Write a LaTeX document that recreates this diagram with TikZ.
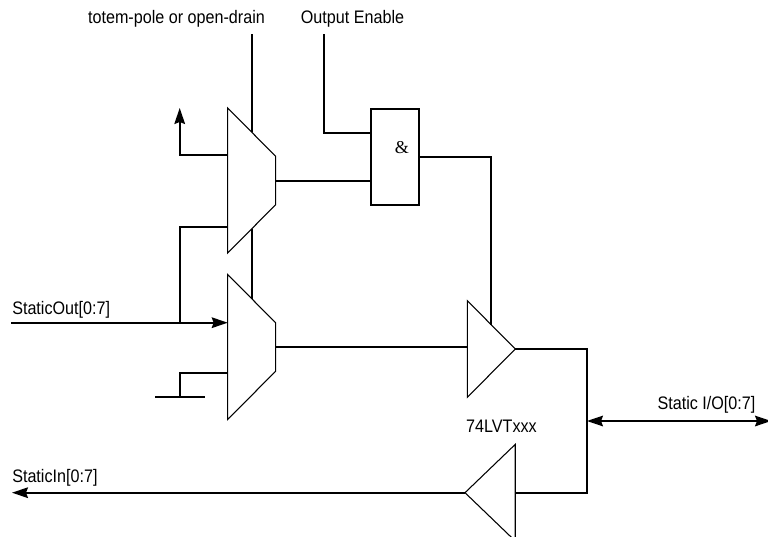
\documentclass[tikz,border=0pt]{standalone}
\usepackage{fontspec}
\setmainfont[FakeStretch=0.89]{Liberation Sans}
\newfontfamily\ampfont{Liberation Serif}
\usetikzlibrary{arrows.meta,shapes.geometric}
\definecolor{WireBlack}{HTML}{000000}
\begin{document}
\begin{tikzpicture}[x=0.75pt,y=-0.75pt,
  wire/.style={WireBlack,line width=1.25pt},
  arr/.style={wire,-{Stealth[length=12pt,width=8pt,inset=1.5pt]}},
  bus/.style={wire,{Stealth[length=12pt,width=8pt,inset=1.5pt]}-{Stealth[length=12pt,width=8pt,inset=1.5pt]}},
  mux/.style={draw,line width=0.8pt,fill=white,trapezium,trapezium left angle=45,
    trapezium right angle=45,trapezium stretches=true,shape border rotate=270,
    minimum width=108.75pt,minimum height=36pt,inner sep=1pt,outer sep=0pt},
  buf/.style={draw,line width=0.8pt,fill=white,isosceles triangle,isosceles triangle apex angle=90,
    isosceles triangle stretches=true,minimum height=36pt,minimum width=72.5pt,inner sep=1pt,outer sep=0pt},
  andbox/.style={draw,line width=1.25pt,minimum width=36pt,minimum height=72pt,inner sep=0pt,outer sep=0pt},
  lab/.style={font=\fontsize{13.6}{15}\selectfont,inner sep=0pt}]
  \useasboundingbox (0,0) rectangle (768,536);
  % wires behind the shapes
  \coordinate (modetop) at (251.7,34);
  \coordinate (oetop) at (323.7,34);
  \coordinate (upfree) at (179.7,108);
  \coordinate (upcorner) at (179.7,155);
  \coordinate (loopcorner) at (179.7,226.7);
  \coordinate (loopjoin) at (179.7,322.7);
  \coordinate (soutfree) at (11,322.7);
  \coordinate (gndtop) at (179.7,373);
  \coordinate (gndjoin) at (179.7,396.7);
  \coordinate (gndleft) at (155,396.7);
  \coordinate (gndright) at (205,396.7);
  \coordinate (sinfree) at (12,492.7);
  \coordinate (iojoin) at (587,421);
  \coordinate (iofree) at (771,421);
  \coordinate (rtop) at (587,349);
  \coordinate (rbot) at (587,492.7);
  \coordinate (oeturn) at (491,156.7);

  \node[mux] (MuxA) at (251.7,180.5) {};
  \node[mux] (MuxB) at (251.7,347) {};
  \node[andbox] (AndG) at (394.8,156.7) {};
  \node[buf,anchor=apex] (BufO) at (515.3,349) {};
  \node[buf,anchor=apex,shape border rotate=180,minimum height=37.7pt] (BufI) at (465,492.7) {};

  \coordinate (muxaup) at (227.7,155);
  \coordinate (muxalo) at (227.7,226.7);
  \coordinate (muxaout) at (275.7,180.7);
  \coordinate (muxasel) at (251.7,132);
  \coordinate (muxasellow) at (251.7,229);
  \coordinate (muxbsel) at (251.7,299);
  \coordinate (muxbin) at (227.7,322.7);
  \coordinate (muxbgnd) at (227.7,373);
  \coordinate (muxbout) at (275.7,346.7);
  \coordinate (bufoin) at (467.3,346.7);
  \coordinate (bufoen) at (491,325);
  \coordinate (andin) at (370.8,132.7);
  \coordinate (oecorner) at (323.7,132.7);
  \coordinate (andinb) at (370.8,180.7);
  \coordinate (andout) at (418.8,156.7);
  \coordinate (bufiin) at (515.3,492.7);

  \draw[wire] (modetop) -- (muxasel);
  \draw[wire] (muxasellow) -- (muxbsel);
  \draw[arr] (muxaup) -- (upcorner) -- (upfree);
  \draw[wire] (muxalo) -- (loopcorner) -- (loopjoin);
  \draw[arr] (soutfree) -- (muxbin);
  \draw[wire] (muxbgnd) -- (gndtop) -- (gndjoin);
  \draw[wire] (gndleft) -- (gndright);
  \draw[wire] (muxaout) -- (andinb);
  \draw[wire] (oetop) -- (oecorner) -- (andin);
  \draw[wire] (andout) -- (oeturn) -- (bufoen);
  \draw[wire] (muxbout) -- (bufoin);
  \draw[wire] (BufO.apex) -- (rtop) -- (rbot) -- (bufiin);
  \draw[arr] (BufI.apex) -- (sinfree);
  \draw[bus] (iojoin) -- (iofree);

  \node[lab] (ampl) at (402,148) {\ampfont\&};
  \node[lab] (modelab) at (176.5,19) {totem-pole or open-drain};
  \node[lab] (oelab) at (352.5,19) {Output Enable};
  \node[lab,anchor=west] (soutlab) at (12,310) {StaticOut[0:7]};
  \node[lab,anchor=west] (sinlab) at (12,478) {StaticIn[0:7]};
  \node[lab] (iolab) at (706.5,405) {Static I/O[0:7]};
  \node[lab] (partlab) at (501.5,426) {74LVTxxx};
\end{tikzpicture}
\end{document}
